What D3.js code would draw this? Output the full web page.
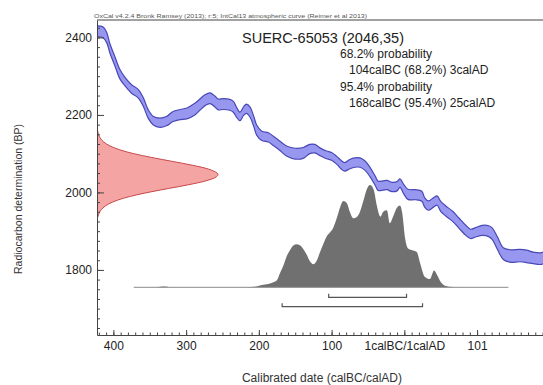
<!DOCTYPE html>
<html>
<head>
<meta charset="utf-8">
<script src="https://cdn.jsdelivr.net/npm/d3@7"></script>
<style>
  html, body { margin: 0; padding: 0; background: #fff; }
  text { font-family: Arial, "Liberation Sans", sans-serif; }
</style>
</head>
<body>
<div id="chart"></div>
<script>
const WIDTH = 543;
const HEIGHT = 385;

// plot frame
const frame = { left: 97, right: 543, top: 20, bottom: 335 };

// calibration curve (IntCal13), calendar year (BC negative), BP and 1 sigma
const curveYears = [-422, -414, -409, -405, -398, -391, -384, -375, -366, -359,
  -352, -345, -336, -327, -318, -308, -299, -288, -274, -267,
  -260, -256, -249, -240, -235, -231, -226, -221, -217, -212,
  -207, -203, -196, -187, -180, -171, -162, -150, -139, -130,
  -123, -116, -107, -100, -93, -86, -82, -75, -68, -61,
  -54, -47, -40, -36, -29, -24, -17, -10, -6, -1,
  5, 15, 24, 28, 33, 40, 45, 50, 57, 66,
  75, 84, 91, 98, 107, 116, 121, 128, 136, 145,
  159, 168, 177, 187, 191];
const curveBP = [2416, 2413, 2399, 2373, 2339, 2305, 2286, 2267, 2255, 2234,
  2202, 2185, 2180, 2184, 2196, 2201, 2204, 2215, 2238, 2243,
  2234, 2227, 2228, 2226, 2221, 2208, 2196, 2210, 2216, 2207,
  2183, 2161, 2146, 2142, 2133, 2120, 2107, 2100, 2102, 2112,
  2113, 2105, 2097, 2093, 2083, 2070, 2066, 2073, 2077, 2077,
  2069, 2052, 2030, 2017, 2018, 2019, 2014, 2016, 2024, 2009,
  1995, 1994, 1990, 1974, 1966, 1974, 1979, 1964, 1952, 1939,
  1921, 1903, 1893, 1897, 1902, 1900, 1893, 1869, 1842, 1836,
  1837, 1835, 1831, 1829, 1831];
const curveSigma = [14, 14, 13, 12, 12, 12, 11, 11, 11, 11,
  11, 11, 12, 12, 13, 13, 14, 15, 14, 14,
  14, 14, 14, 14, 14, 13, 11, 11, 12, 13,
  13, 13, 12, 12, 12, 12, 13, 14, 14, 12,
  11, 10, 10, 10, 10, 11, 11, 12, 12, 12,
  12, 12, 12, 12, 12, 12, 12, 12, 11, 12,
  13, 13, 13, 12, 12, 12, 12, 13, 13, 13,
  13, 13, 12, 12, 13, 14, 15, 16, 15, 16,
  16, 16, 15, 15, 15];

// radiocarbon measurement likelihood (relative)
const likeBP = [1936, 1950, 1960, 1970, 1980, 1990, 2000, 2010, 2020, 2030, 2040, 2046,
  2050, 2060, 2070, 2080, 2090, 2100, 2110, 2120, 2130, 2140, 2150, 2160];
const likeProb = [0.007, 0.023, 0.049, 0.095, 0.169, 0.278, 0.421, 0.589, 0.759, 0.901, 0.985, 1,
  0.993, 0.923, 0.790, 0.624, 0.454, 0.304, 0.188, 0.107, 0.056, 0.027, 0.012, 0.005];

// calibrated date distribution (relative)
const postYears = [-372, -345, -333, -328, -320, -230, -206, -196, -187, -180,
  -175, -171, -166, -162, -157, -153, -148, -144, -139, -134,
  -130, -125, -120, -116, -111, -107, -102, -98, -93, -88,
  -84, -79, -75, -70, -65, -61, -56, -52, -47, -42,
  -38, -33, -29, -24, -20, -15, -10, -6, -3, 1,
  5, 10, 17, 22, 28, 35, 41, 45, 50, 57,
  66, 79, 143];
const postProb = [0, 0, 0.008, 0.008, 0, 0, 0.005, 0.022, 0.032, 0.049,
  0.071, 0.137, 0.218, 0.299, 0.365, 0.407, 0.420, 0.413, 0.374, 0.316,
  0.257, 0.225, 0.267, 0.342, 0.430, 0.495, 0.538, 0.577, 0.674, 0.788,
  0.844, 0.821, 0.739, 0.674, 0.690, 0.739, 0.853, 0.951, 1.0, 0.951,
  0.804, 0.690, 0.739, 0.753, 0.626, 0.70, 0.78, 0.80, 0.73, 0.48,
  0.38, 0.365, 0.345, 0.228, 0.104, 0.081, 0.164, 0.12, 0.052, 0.013,
  0.003, 0, 0];

// highest posterior density ranges
const range68 = [-104, 3];
const range95 = [-168, 25];

// axis ticks
const xTicks = [-400, -300, -200, -100, 0, 100];
const xTickLabels = ['400', '300', '200', '100', '1calBC/1calAD', '101'];
const yTicks = [1800, 2000, 2200, 2400];

const header = 'OxCal v4.2.4 Bronk Ramsey (2013); r:5; IntCal13 atmospheric curve (Reimer et al 2013)';
const title = 'SUERC-65053 (2046,35)';
const summary = [
  { text: '68.2% probability', indent: 0 },
  { text: '104calBC (68.2%) 3calAD', indent: 1 },
  { text: '95.4% probability', indent: 0 },
  { text: '168calBC (95.4%) 25calAD', indent: 1 },
];

const svg = d3.select('#chart')
  .append('svg')
  .attr('width', WIDTH)
  .attr('height', HEIGHT);

const x = d3.scaleLinear().domain([-422.5, 190.6]).range([frame.left, frame.right]);
const y = d3.scaleLinear().domain([1632, 2445]).range([frame.bottom, frame.top]);
const postY = d3.scaleLinear().domain([0, 1]).range([287.3, 185]);
const likeX = d3.scaleLinear().domain([0, 1]).range([frame.left, 218]);

svg.append('clipPath')
  .attr('id', 'plot-clip')
  .append('rect')
  .attr('x', frame.left)
  .attr('y', frame.top)
  .attr('width', frame.right - frame.left)
  .attr('height', frame.bottom - frame.top);

const plot = svg.append('g').attr('clip-path', 'url(#plot-clip)');

// calibration curve band
const curve = curveYears.map((yr, i) => ({ yr, bp: curveBP[i], s: curveSigma[i] }));
plot.append('path')
  .datum(curve)
  .attr('fill', '#9797ef')
  .attr('d', d3.area()
    .x((d) => x(d.yr))
    .y0((d) => y(d.bp - d.s))
    .y1((d) => y(d.bp + d.s))
    .curve(d3.curveCatmullRom));

[1, -1].forEach((sign) => {
  plot.append('path')
    .datum(curve)
    .attr('fill', 'none')
    .attr('stroke', '#4848b8')
    .attr('stroke-width', 1.2)
    .attr('d', d3.line()
      .x((d) => x(d.yr))
      .y((d) => y(d.bp + sign * d.s))
      .curve(d3.curveCatmullRom));
});

// measurement likelihood on the y axis
const like = likeBP.map((bp, i) => ({ bp, p: likeProb[i] }));
plot.append('path')
  .datum(like)
  .attr('fill', '#f5a4a4')
  .attr('stroke', '#c8484b')
  .attr('stroke-width', 1)
  .attr('d', d3.area()
    .y((d) => y(d.bp))
    .x0(likeX(0))
    .x1((d) => likeX(d.p))
    .curve(d3.curveCatmullRom));

// calibrated distribution
const post = postYears.map((yr, i) => ({ yr, p: postProb[i] }));
plot.append('path')
  .datum(post)
  .attr('fill', '#707070')
  .attr('d', d3.area()
    .x((d) => x(d.yr))
    .y0(postY(0))
    .y1((d) => postY(d.p))
    .curve(d3.curveMonotoneX));

plot.append('line')
  .attr('x1', x(postYears[0]))
  .attr('x2', x(postYears[postYears.length - 1]))
  .attr('y1', postY(0))
  .attr('y2', postY(0))
  .attr('stroke', '#8a8a8a')
  .attr('stroke-width', 1);

// range brackets
[[range68, 297.3], [range95, 306.7]].forEach(([r, yy]) => {
  plot.append('path')
    .attr('fill', 'none')
    .attr('stroke', '#555')
    .attr('stroke-width', 1.2)
    .attr('d', `M${x(r[0])},${yy - 3.5}V${yy}H${x(r[1])}V${yy - 3.5}`);
});

// frame top line
svg.append('line')
  .attr('x1', frame.left).attr('x2', frame.right)
  .attr('y1', frame.top).attr('y2', frame.top)
  .attr('stroke', '#444').attr('stroke-width', 1);

// axes
svg.append('g')
  .attr('transform', `translate(${frame.left},0)`)
  .call(d3.axisLeft(y).tickValues(yTicks).tickSizeInner(-7).tickSizeOuter(0).tickPadding(5)
    .tickFormat(d3.format('d')));
svg.append('g')
  .attr('transform', `translate(${frame.left},0)`)
  .call(d3.axisLeft(y).tickValues(d3.range(1650, 2445, 25)).tickSize(-3).tickFormat(''))
  .call((g) => g.select('.domain').remove());

svg.append('g')
  .attr('transform', `translate(0,${frame.bottom})`)
  .call(d3.axisBottom(x).tickValues(xTicks).tickSizeInner(-5).tickSizeOuter(0).tickPadding(6)
    .tickFormat((d, i) => xTickLabels[i]));
svg.append('g')
  .attr('transform', `translate(0,${frame.bottom})`)
  .call(d3.axisBottom(x).tickValues(d3.range(-420, 191, 10)).tickSize(-2.5).tickFormat(''))
  .call((g) => g.select('.domain').remove());

svg.selectAll('.tick line').attr('stroke', '#444');
svg.selectAll('.domain').attr('stroke', '#444');
svg.selectAll('.tick text')
  .attr('font-family', 'Arial, "Liberation Sans", sans-serif')
  .attr('font-size', 12)
  .attr('fill', '#222');

// texts
svg.append('text')
  .attr('x', 94).attr('y', 17.5)
  .attr('font-size', 6)
  .attr('textLength', 273)
  .attr('lengthAdjust', 'spacingAndGlyphs')
  .attr('fill', '#555')
  .text(header);

svg.append('text')
  .attr('x', 242).attr('y', 43)
  .attr('font-size', 14.5)
  .attr('fill', '#222')
  .text(title);

svg.selectAll('text.summary')
  .data(summary)
  .enter()
  .append('text')
  .attr('class', 'summary')
  .attr('x', (d) => 340 + d.indent * 9)
  .attr('y', (d, i) => 57.7 + i * 16.5)
  .attr('font-size', 12)
  .attr('fill', '#222')
  .text((d) => d.text);

svg.append('text')
  .attr('transform', 'translate(22,199) rotate(-90)')
  .attr('text-anchor', 'middle')
  .attr('font-size', 10.5)
  .attr('fill', '#333')
  .text('Radiocarbon determination (BP)');

svg.append('text')
  .attr('x', 322).attr('y', 382)
  .attr('text-anchor', 'middle')
  .attr('font-size', 12)
  .attr('fill', '#333')
  .text('Calibrated date (calBC/calAD)');
</script>
</body>
</html>
